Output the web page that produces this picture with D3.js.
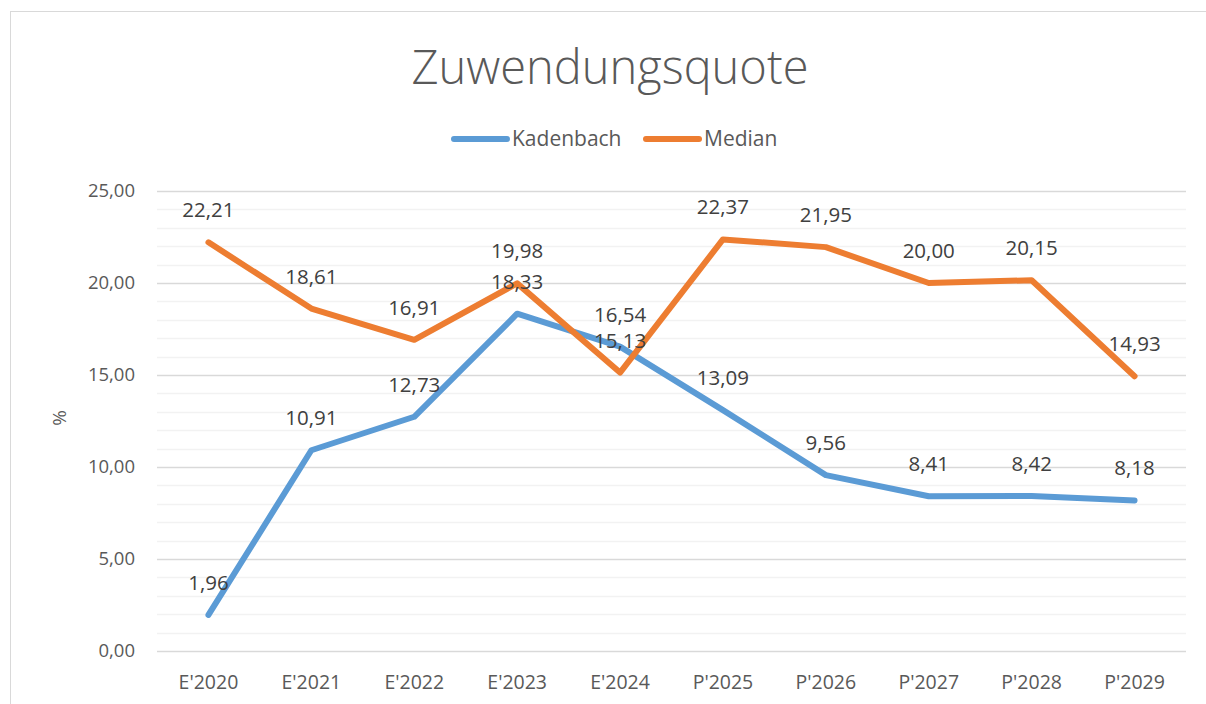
<!DOCTYPE html>
<html><head><meta charset="utf-8">
<script src="https://cdn.jsdelivr.net/npm/d3@7/dist/d3.min.js"></script>
<style>body{margin:0;background:#fff}svg{display:block}</style>
</head><body><svg id="c" width="1206" height="704"></svg>
<script>
const categories = ["E'2020","E'2021","E'2022","E'2023","E'2024","P'2025","P'2026","P'2027","P'2028","P'2029"];
const kadenbach = [1.96,10.91,12.73,18.33,16.54,13.09,9.56,8.41,8.42,8.18];
const median = [22.21,18.61,16.91,19.98,15.13,22.37,21.95,20.00,20.15,14.93];
const seriesNames = ["Kadenbach","Median"];
const seriesColors = ["#5B9BD5","#ED7D31"];
const yTicks = [0,5,10,15,20,25];
const title = "Zuwendungsquote";
const yTitle = "%";

const svg = d3.select("#c");
const font = "'Open Sans', 'Liberation Sans', sans-serif";
const fmt = v => v.toFixed(2).replace(".", ",");

svg.append("rect").attr("x",10.5).attr("y",11.5).attr("width",1220).attr("height",720)
  .attr("fill","#fff").attr("stroke","#d9d9d9").attr("stroke-width",1);

const x = d3.scaleBand().domain(categories).range([157,1186]);
const y = d3.scaleLinear().domain([0,25]).range([651,191]);

// minor gridlines
const minor = d3.range(0,26,1).filter(v => v%5!==0);
svg.append("g").selectAll("line").data(minor).join("line")
  .attr("x1",157).attr("x2",1186).attr("y1",d=>Math.round(y(d))+0.5).attr("y2",d=>Math.round(y(d))+0.5)
  .attr("stroke","#f2f2f2").attr("stroke-width",1.5);
// major gridlines
svg.append("g").selectAll("line").data(yTicks).join("line")
  .attr("x1",157).attr("x2",1186).attr("y1",d=>Math.round(y(d))+0.5).attr("y2",d=>Math.round(y(d))+0.5)
  .attr("stroke","#d9d9d9").attr("stroke-width",1.5);

// y axis
const ya = svg.append("g").attr("transform","translate(157,0)")
  .call(d3.axisLeft(y).tickValues(yTicks).tickSize(0).tickPadding(22).tickFormat(fmt));
ya.select(".domain").remove();
ya.selectAll("text").attr("font-family",font).attr("font-size",18.5).attr("fill","#595959");

// x axis
const xa = svg.append("g").attr("transform","translate(0,651)")
  .call(d3.axisBottom(x).tickSize(0).tickPadding(24));
xa.select(".domain").remove();
xa.selectAll("text").attr("font-family",font).attr("font-size",19.5).attr("fill","#595959");

svg.append("text").attr("transform","translate(66,418) rotate(-90)").attr("text-anchor","middle")
  .attr("font-family",font).attr("font-size",19).attr("fill","#595959").text(yTitle);

svg.append("text").attr("x",610).attr("y",84).attr("text-anchor","middle")
  .attr("font-family",font).attr("font-weight",300).attr("font-size",47).attr("fill","#595959").text(title);

const cx = c => x(c) + x.bandwidth()/2;
const line = d3.line().x((d,i)=>cx(categories[i])).y(d=>y(d));
const data = [kadenbach, median];
data.forEach((s,k)=>{
  svg.append("path").attr("d",line(s)).attr("fill","none").attr("stroke",seriesColors[k])
    .attr("stroke-width",6).attr("stroke-linecap","round").attr("stroke-linejoin","round");
});
data.forEach((s,k)=>{
  svg.append("g").selectAll("text").data(s).join("text")
    .attr("x",(d,i)=>cx(categories[i])).attr("y",d=>y(d)-25).attr("text-anchor","middle")
    .attr("font-family",font).attr("font-size",20.5).attr("fill","#404040").text(fmt);
});

// legend
const leg = [{x:451},{x:643}];
seriesNames.forEach((n,k)=>{
  svg.append("line").attr("x1",leg[k].x+3).attr("x2",leg[k].x+56).attr("y1",139).attr("y2",139)
    .attr("stroke",seriesColors[k]).attr("stroke-width",6).attr("stroke-linecap","round");
  svg.append("text").attr("x",leg[k].x+61).attr("y",146).attr("font-family",font)
    .attr("font-size",21).attr("fill","#595959").text(n);
});
</script></body></html>
